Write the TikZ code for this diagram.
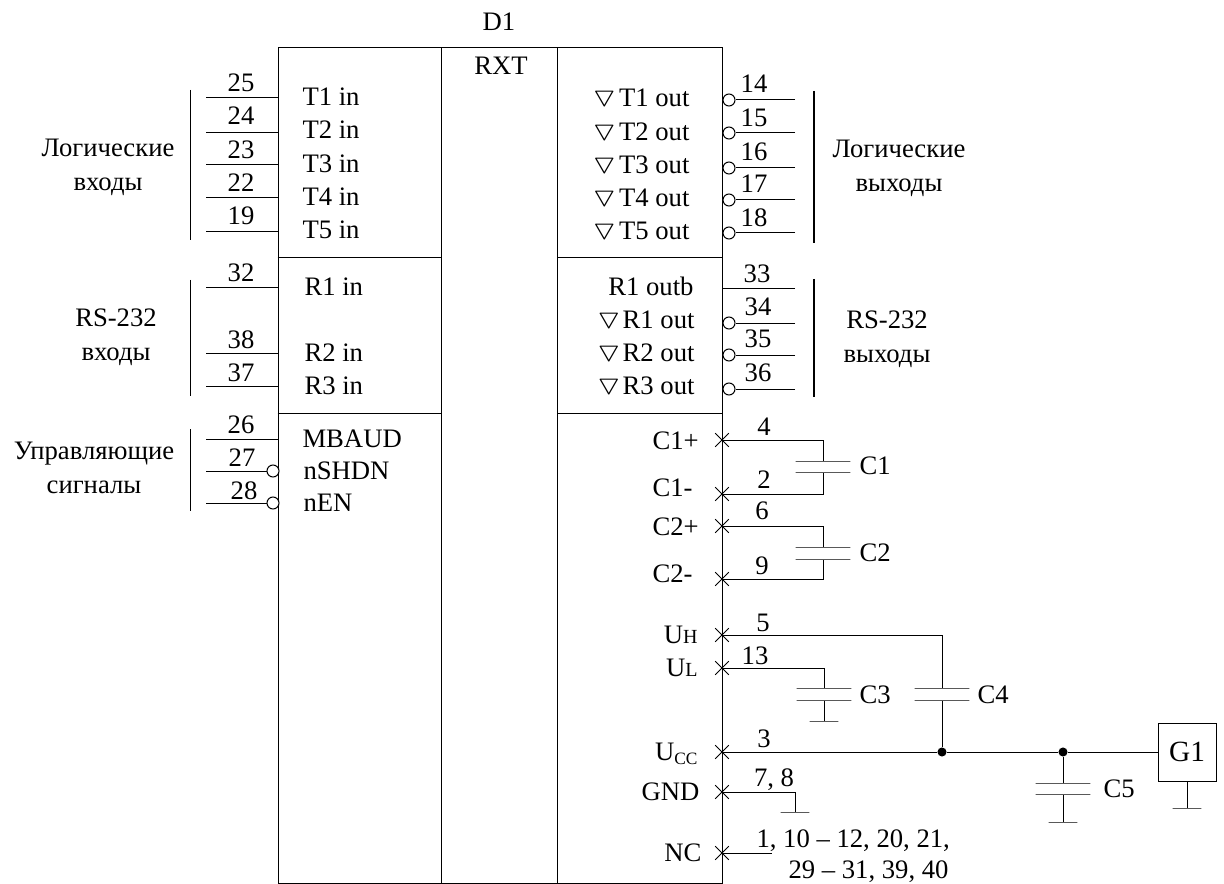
\documentclass[tikz,border=0pt]{standalone}
\usepackage{amssymb}
\usepackage{amsmath}
\usepackage{fontspec}
\setmainfont{Liberation Serif}
\usetikzlibrary{shapes.misc}

\tikzset{
  lbl/.style={inner sep=0pt,font=\fontsize{20}{25.5}\selectfont,text height=13.2pt,text depth=0pt},
  two/.style={inner sep=0pt,font=\fontsize{20}{25.5}\selectfont,align=center},
  invdot/.style={circle,draw,fill=white,inner sep=0pt,minimum size=9pt},
  crossmk/.style={cross out,draw,inner sep=0pt,minimum size=9.5pt},
  plate/.style={rectangle,draw,inner sep=0pt,minimum width=41pt,minimum height=0pt},
  earth/.style={rectangle,draw,inner sep=0pt,minimum width=21.5pt,minimum height=0pt},
  joint/.style={circle,fill=black,inner sep=0pt,minimum size=6.8pt},
  bracket/.style={line width=1.1pt}
}
\newcommand{\tridown}{\scalebox{1.25}[1]{$\triangledown$}}

\begin{document}
\begin{tikzpicture}[x=0.75pt,y=-0.75pt,line width=0.75pt]
\useasboundingbox (0,0) rectangle (1224,884);

% chip
\node [draw,inner sep=0pt,minimum width=333pt,minimum height=626.25pt] (chip) at (500,465.5) {};
\coordinate (midl) at (441,48);
\coordinate (midr) at (557,48);
\draw (midl) -- (midl |- chip.south);
\draw (midr) -- (midr |- chip.south);
\coordinate (sepa) at (0,258);
\coordinate (sepb) at (0,413);
\draw (sepa -| chip.west) -- (sepa -| midl);
\draw (sepb -| chip.west) -- (sepb -| midl);
\draw (sepa -| midr) -- (sepa -| chip.east);
\draw (sepb -| midr) -- (sepb -| chip.east);
\node [lbl] (title) at (499,22) {D1};
\node [lbl] (rxt) at (501,66) {RXT};

% left side
\coordinate (p25) at (206,98);
\coordinate (p24) at (206,133);
\coordinate (p23) at (206,165);
\coordinate (p22) at (206,198);
\coordinate (p19) at (206,232);
\coordinate (p32) at (206,288);
\coordinate (p38) at (206,353);
\coordinate (p37) at (206,386);
\coordinate (p26) at (206,439);
\coordinate (p27) at (206,471);
\coordinate (p28) at (206,503);
\node [invdot] (o27) at (273,471) {};
\node [invdot] (o28) at (273,503) {};
\draw (p25) -- (p25 -| chip.west);
\draw (p24) -- (p24 -| chip.west);
\draw (p23) -- (p23 -| chip.west);
\draw (p22) -- (p22 -| chip.west);
\draw (p19) -- (p19 -| chip.west);
\draw (p32) -- (p32 -| chip.west);
\draw (p38) -- (p38 -| chip.west);
\draw (p37) -- (p37 -| chip.west);
\draw (p26) -- (p26 -| chip.west);
\draw (p27) -- (o27);
\draw (p28) -- (o28);

\node [lbl] (n25) at (241,83) {25};
\node [lbl] (n24) at (241,116) {24};
\node [lbl] (n23) at (241,150) {23};
\node [lbl] (n22) at (241,183) {22};
\node [lbl] (n19) at (241,216) {19};
\node [lbl] (n32) at (241,273) {32};
\node [lbl] (n38) at (241,340) {38};
\node [lbl] (n37) at (241,373) {37};
\node [lbl] (n26) at (241,425) {26};
\node [lbl] (n27) at (242,458) {27};
\node [lbl] (n28) at (244,491) {28};

\node [lbl,anchor=west] (t1in) at (302,97) {T1 in};
\node [lbl,anchor=west] (t2in) at (302,130) {T2 in};
\node [lbl,anchor=west] (t3in) at (302,164) {T3 in};
\node [lbl,anchor=west] (t4in) at (302,197) {T4 in};
\node [lbl,anchor=west] (t5in) at (302,230) {T5 in};
\node [lbl,anchor=west] (r1in) at (304,287) {R1 in};
\node [lbl,anchor=west] (r2in) at (304,353) {R2 in};
\node [lbl,anchor=west] (r3in) at (304,386) {R3 in};
\node [lbl,anchor=west] (mbaud) at (302,439) {MBAUD};
\node [lbl,anchor=west] (nshdn) at (303,471) {nSHDN};
\node [lbl,anchor=west] (nen) at (303,503) {nEN};

\draw [bracket] (190.5,90) coordinate (ba) -- (190.5,240) coordinate (bb);
\draw [bracket] (190.5,280) coordinate (bc) -- (190.5,396) coordinate (bd);
\draw [bracket] (190.5,429) coordinate (be) -- (190.5,511) coordinate (bf);
\node [two] (login) at (108,167) {Логические\\входы};
\node [two] (rsin) at (116,337) {RS-232\\входы};
\node [two] (ctrl) at (94,468) {Управляющие\\сигналы};

% right side
\coordinate (p14) at (795,100);
\coordinate (p15) at (795,133);
\coordinate (p16) at (795,168);
\coordinate (p17) at (795,200);
\coordinate (p18) at (795,233);
\coordinate (p33) at (795,289);
\coordinate (p34) at (795,323);
\coordinate (p35) at (795,355);
\coordinate (p36) at (795,389);
\node [invdot] (o14) at (729,100) {};
\node [invdot] (o15) at (729,133) {};
\node [invdot] (o16) at (729,168) {};
\node [invdot] (o17) at (729,200) {};
\node [invdot] (o18) at (729,233) {};
\node [invdot] (o34) at (729,323) {};
\node [invdot] (o35) at (729,355) {};
\node [invdot] (o36) at (729,389) {};
\draw (p14) -- (o14);
\draw (p15) -- (o15);
\draw (p16) -- (o16);
\draw (p17) -- (o17);
\draw (p18) -- (o18);
\draw (p33) -- (p33 -| chip.east);
\draw (p34) -- (o34);
\draw (p35) -- (o35);
\draw (p36) -- (o36);

\node [lbl] (n14) at (754,84) {14};
\node [lbl] (n15) at (754,118) {15};
\node [lbl] (n16) at (754,152) {16};
\node [lbl] (n17) at (754,184) {17};
\node [lbl] (n18) at (754,218) {18};
\node [lbl] (n33) at (757,274) {33};
\node [lbl] (n34) at (758,307) {34};
\node [lbl] (n35) at (758,339) {35};
\node [lbl] (n36) at (758,373) {36};

\node [lbl,anchor=east] (t1out) at (690,98) {\tridown\hspace{2pt}T1 out};
\node [lbl,anchor=east] (t2out) at (690,132) {\tridown\hspace{2pt}T2 out};
\node [lbl,anchor=east] (t3out) at (690,165) {\tridown\hspace{2pt}T3 out};
\node [lbl,anchor=east] (t4out) at (690,198) {\tridown\hspace{2pt}T4 out};
\node [lbl,anchor=east] (t5out) at (690,231) {\tridown\hspace{2pt}T5 out};
\node [lbl,anchor=east] (r1outb) at (694,287) {R1 outb};
\node [lbl,anchor=east] (r1out) at (695,320) {\tridown\hspace{1.3pt}R1 out};
\node [lbl,anchor=east] (r2out) at (695,353) {\tridown\hspace{1.3pt}R2 out};
\node [lbl,anchor=east] (r3out) at (695,386) {\tridown\hspace{1.3pt}R3 out};

\draw [bracket] (814,91) coordinate (bg) -- (814,243) coordinate (bh);
\draw [bracket] (814,279) coordinate (bi) -- (814,397) coordinate (bj);
\node [two] (logout) at (899,168) {Логические\\выходы};
\node [two] (rsout) at (887,339) {RS-232\\выходы};

% power pins
\node [crossmk] (x4) at (722,440) {};
\node [crossmk] (x2) at (722,494) {};
\node [crossmk] (x6) at (722,526) {};
\node [crossmk] (x9) at (722,579) {};
\node [crossmk] (x5) at (722,635) {};
\node [crossmk] (x13) at (722,668) {};
\node [crossmk] (x3) at (722,752) {};
\node [crossmk] (x7) at (722,792) {};
\node [crossmk] (x1) at (722,853) {};

\node [lbl,anchor=west] (cp1) at (652,441) {C1+};
\node [lbl,anchor=west] (cm1) at (652,488) {C1-};
\node [lbl,anchor=west] (cp2) at (652,527) {C2+};
\node [lbl,anchor=west] (cm2) at (652,574) {C2-};
\node [lbl,anchor=east] (uh) at (698,635) {U{\fontsize{15}{15}\selectfont H}};
\node [lbl,anchor=east] (ul) at (698,668) {U{\fontsize{15}{15}\selectfont L}};
\node [lbl,anchor=east] (ucc) at (698,752) {U\raisebox{-2.5pt}{\fontsize{13}{13}\selectfont CC}};
\node [lbl,anchor=east] (gnd) at (700,792) {GND};
\node [lbl,anchor=east] (nc) at (702,853) {NC};

\node [lbl] (n4) at (764,427) {4};
\node [lbl] (n2) at (764,480) {2};
\node [lbl] (n6) at (762,511) {6};
\node [lbl] (n9) at (762,566) {9};
\node [lbl] (n5) at (763,623) {5};
\node [lbl] (n13) at (755,656) {13};
\node [lbl] (n3) at (764,739) {3};
\node [lbl] (n78) at (774,778) {7, 8};
\node [lbl,anchor=west] (nca) at (756,839) {1, 10 -- 12, 20, 21,};
\node [lbl,anchor=west] (ncb) at (788,869.5) {29 -- 31, 39, 40};

% capacitors
\node [plate] (c1a) at (823,461) {};
\node [plate] (c1b) at (823,472) {};
\draw (x4.center) -- (x4 -| c1a) -- (c1a);
\draw (x2.center) -- (x2 -| c1b) -- (c1b);
\node [lbl,anchor=west] (c1) at (859,466) {C1};

\node [plate] (c2a) at (823,547) {};
\node [plate] (c2b) at (823,559) {};
\draw (x6.center) -- (x6 -| c2a) -- (c2a);
\draw (x9.center) -- (x9 -| c2b) -- (c2b);
\node [lbl,anchor=west] (c2) at (859,553) {C2};

\node [plate] (c3a) at (824,688) {};
\node [plate] (c3b) at (824,700) {};
\node [earth] (e3) at (824,721) {};
\draw (x13.center) -- (x13 -| c3a) -- (c3a);
\draw (c3b) -- (e3);
\node [lbl,anchor=west] (c3) at (859,695) {C3};

\node [plate] (c4a) at (942,688) {};
\node [plate] (c4b) at (942,700) {};
\node [joint] (j1) at (942,752) {};
\draw (x5.center) -- (x5 -| c4a) -- (c4a);
\draw (c4b) -- (j1);
\node [lbl,anchor=west] (c4) at (977,695) {C4};

% supply
\node [draw,inner sep=0pt,minimum width=43.5pt,minimum height=43.5pt,font=\fontsize{22}{22}\selectfont] (g1) at (1187,752) {G1};
\node [joint] (j2) at (1063,752) {};
\node [plate] (c5a) at (1063,783) {};
\node [plate] (c5b) at (1063,794) {};
\node [earth] (e5) at (1063,822) {};
\node [lbl,anchor=west] (c5) at (1103,789) {C5};
\draw (x3.center) -- (j1) -- (j2) -- (g1);
\draw (j2) -- (c5a);
\draw (c5b) -- (e5);
\node [earth] (eg) at (1187,808) {};
\draw (g1) -- (eg);

\node [earth] (e7) at (795,812) {};
\draw (x7.center) -- (x7 -| e7) -- (e7);
\coordinate (ncend) at (772,853);
\draw (x1.center) -- (ncend);

\end{tikzpicture}
\end{document}
